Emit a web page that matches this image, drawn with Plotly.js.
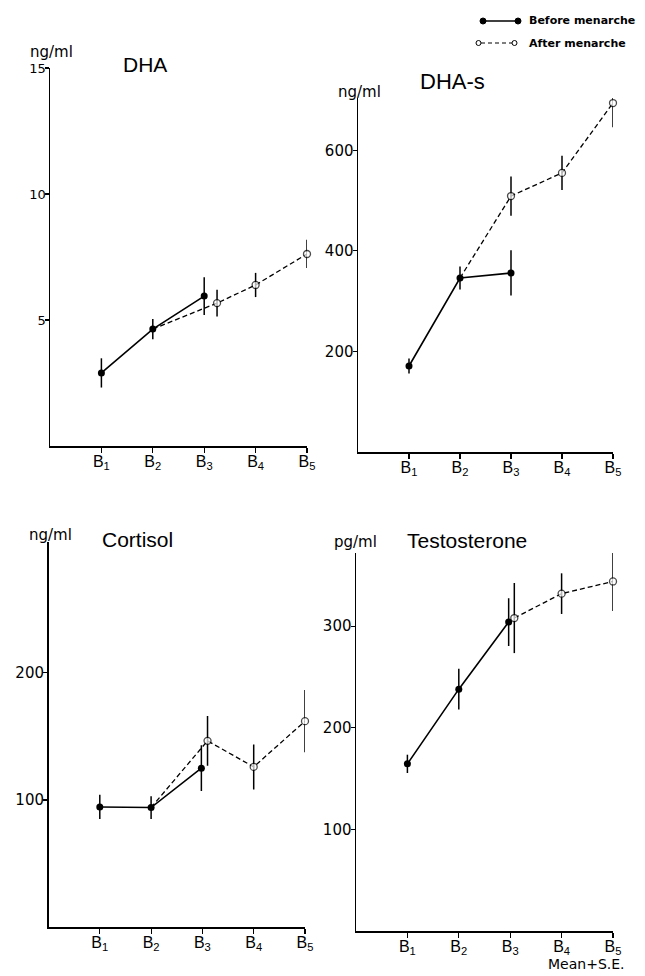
<!DOCTYPE html>
<html><head><meta charset="utf-8">
<script src="https://cdn.plot.ly/plotly-3.0.1.min.js"></script>
<style>html,body{margin:0;padding:0;background:#fff}#chart{width:645px;height:976px}</style>
</head><body><div id="chart"></div>
<script>
// ---- data ----
const stageLabels = ['B<sub>1</sub>','B<sub>2</sub>','B<sub>3</sub>','B<sub>4</sub>','B<sub>5</sub>'];
const stageIdx = [1,2,3,4,5];

// DHA (ng/ml)
const dhaBeforeStage = [1,2,3];
const dhaBefore      = [2.9, 4.64, 5.95];
const dhaBeforeSE    = [0.58, 0.4, 0.75];
const dhaAfterStage  = [2,3,4,5];
const dhaAfter       = [4.64, 5.67, 6.39, 7.62];
const dhaAfterSE     = [null, 0.53, 0.48, 0.56];

// DHA-s (ng/ml)
const dhasBeforeStage = [1,2,3];
const dhasBefore      = [171, 346, 356];
const dhasBeforeSE    = [15, 23, 45];
const dhasAfterStage  = [2,3,4,5];
const dhasAfter       = [346, 509, 555, 694];
const dhasAfterSE     = [null, 39, 34, 48];

// Cortisol (ng/ml)
const cortBeforeStage = [1,2,3];
const cortBefore      = [94.5, 94, 125];
const cortBeforeSE    = [9.5, 9, 18];
const cortAfterStage  = [2,3,4,5];
const cortAfter       = [94, 146.5, 126, 162];
const cortAfterSE     = [null, 19.5, 17.7, 24.5];

// Testosterone (pg/ml)
const testBeforeStage = [1,2,3];
const testBefore      = [164.5, 238, 304];
const testBeforeSE    = [9, 20, 23.5];
const testAfterStage  = [3,4,5];
const testAfter       = [308, 332, 344];
const testAfterSE     = [34.5, 20, 29];

// ---- layout helpers ----
const W = 645, H = 976;
const px = x => x / W, py = y => 1 - y / H;

// small horizontal separation of overlapping B3 points (presentation only)
const shift = (stages, s3) => stages.map(s => s === 3 ? s + s3 : s);

function pair(bx, by, be, ax, ay, ae, n, sb3, sa3) {
  const xa = n === 1 ? 'x' : 'x' + n, ya = n === 1 ? 'y' : 'y' + n;
  const before = {
    x: shift(bx, sb3), y: by, xaxis: xa, yaxis: ya, type: 'scatter', mode: 'lines+markers',
    line: {color: '#000', width: 1.6},
    marker: {color: '#000', size: 7, symbol: 'circle'},
    error_y: {type: 'data', array: be, visible: true, color: '#000', thickness: 1.5, width: 0},
    cliponaxis: false, showlegend: false, hoverinfo: 'skip'
  };
  const after = {
    x: shift(ax, sa3), y: ay, xaxis: xa, yaxis: ya, type: 'scatter', mode: 'lines+markers',
    line: {color: '#000', width: 1.3, dash: '5px,3px'},
    marker: {color: '#fff', size: ae.map(e => e === null ? 0 : 7), symbol: 'circle',
             line: {color: '#000', width: 1.3}},
    error_y: {type: 'data', array: ae.map(e => e === null ? 0 : e), visible: true, color: '#000', thickness: 1.5, width: 0},
    cliponaxis: false, showlegend: false, hoverinfo: 'skip'
  };
  return [before, after];
}

const traces = [
  ...pair(dhaBeforeStage, dhaBefore, dhaBeforeSE, dhaAfterStage, dhaAfter, dhaAfterSE, 1, 0, 0.25),
  ...pair(dhasBeforeStage, dhasBefore, dhasBeforeSE, dhasAfterStage, dhasAfter, dhasAfterSE, 2, 0, 0),
  ...pair(cortBeforeStage, cortBefore, cortBeforeSE, cortAfterStage, cortAfter, cortAfterSE, 3, -0.02, 0.1),
  ...pair(testBeforeStage, testBefore, testBeforeSE, testAfterStage, testAfter, testAfterSE, 4, -0.03, 0.08)
];

const font = 'Liberation Sans, Arial, Helvetica, sans-serif';
const font2 = 'DejaVu Sans, Liberation Sans, sans-serif';
function xax(dom, anchor) {
  return {domain: dom, anchor: anchor, range: [0, 5], tickvals: stageIdx, ticktext: stageLabels,
    showline: true, linecolor: '#000', linewidth: 1.5, ticks: 'outside', ticklen: 5, tickcolor: '#000',
    tickwidth: 1.2, showgrid: false, zeroline: false, fixedrange: true, ticklabelstandoff: -5,
    tickfont: {family: font, size: 16, color: '#000'}};
}
function yax(dom, anchor, range, tv, fs) {
  return {domain: dom, anchor: anchor, range: range, tickvals: tv, ticktext: tv.map(String),
    showline: true, linecolor: '#000', linewidth: 1.5, ticks: 'outside', ticklen: 4, tickcolor: '#000',
    tickwidth: 1.2, showgrid: false, zeroline: false, fixedrange: true, ticklabelstandoff: -4,
    tickfont: {family: font2, size: fs, color: '#000'}};
}

function txt(text, x, y, size, opts) {
  return Object.assign({text: text, xref: 'paper', yref: 'paper', x: px(x), y: py(y),
    xanchor: 'center', yanchor: 'middle', showarrow: false,
    font: {family: font, size: size, color: '#000'}}, opts || {});
}
const uf = {family: font2, size: 15, color: '#000'};
const lf = {family: font2, size: 11, color: '#000'};

const annotations = [
  txt('ng/ml', 51, 52, 15, {font: uf}),
  txt('DHA', 145, 65, 21),
  txt('ng/ml', 359, 92, 15, {font: uf}),
  txt('DHA-s', 452, 82, 22),
  txt('ng/ml', 50, 535, 15, {font: uf}),
  txt('Cortisol', 137, 539, 21),
  txt('pg/ml', 355, 542, 15, {font: uf}),
  txt('Testosterone', 467, 540, 21),
  txt('<b>Before menarche</b>', 527, 21, 11, {xanchor: 'left', font: lf}),
  txt('<b>After menarche</b>', 527, 43, 11, {xanchor: 'left', font: lf}),
  txt('Mean+S.E.', 586, 964, 14, {font: {family: font2, size: 14, color: '#000'}})
];

// legend key glyphs
const shapes = [
  {type: 'line', xref: 'paper', yref: 'paper', x0: px(484), x1: px(517), y0: py(21), y1: py(21), line: {color: '#000', width: 1.3}},
  {type: 'circle', xref: 'paper', yref: 'paper', x0: px(480), x1: px(486), y0: py(18), y1: py(24), fillcolor: '#000', line: {color: '#000', width: 1}},
  {type: 'circle', xref: 'paper', yref: 'paper', x0: px(515), x1: px(521), y0: py(18), y1: py(24), fillcolor: '#000', line: {color: '#000', width: 1}},
  {type: 'line', xref: 'paper', yref: 'paper', x0: px(481), x1: px(512), y0: py(43), y1: py(43), line: {color: '#000', width: 1.2, dash: '4px,3px'}},
  {type: 'circle', xref: 'paper', yref: 'paper', x0: px(476), x1: px(481), y0: py(40.5), y1: py(45.5), fillcolor: '#fff', line: {color: '#000', width: 1}},
  {type: 'circle', xref: 'paper', yref: 'paper', x0: px(512), x1: px(517), y0: py(40.5), y1: py(45.5), fillcolor: '#fff', line: {color: '#000', width: 1}}
];

const layout = {
  width: W, height: H, margin: {l: 0, r: 0, t: 0, b: 0},
  paper_bgcolor: '#fff', plot_bgcolor: '#fff', showlegend: false,
  font: {family: font, color: '#000'},
  xaxis:  xax([px(50),  px(307)], 'y'),
  yaxis:  yax([py(446), py(68)],  'x',  [0, 15],  [5, 10, 15], 13),
  xaxis2: xax([px(358), px(613)], 'y2'),
  yaxis2: yax([py(452), py(98)],  'x2', [0, 704], [200, 400, 600], 15),
  xaxis3: xax([px(48.5),px(305)], 'y3'),
  yaxis3: yax([py(927), py(542)], 'x3', [0, 303], [100, 200], 15),
  xaxis4: xax([px(356), px(613)], 'y4'),
  yaxis4: yax([py(931), py(553)], 'x4', [0, 372], [100, 200, 300], 15),
  annotations: annotations, shapes: shapes
};

Plotly.newPlot('chart', traces, layout, {staticPlot: true, displayModeBar: false});
</script>
</body></html>
